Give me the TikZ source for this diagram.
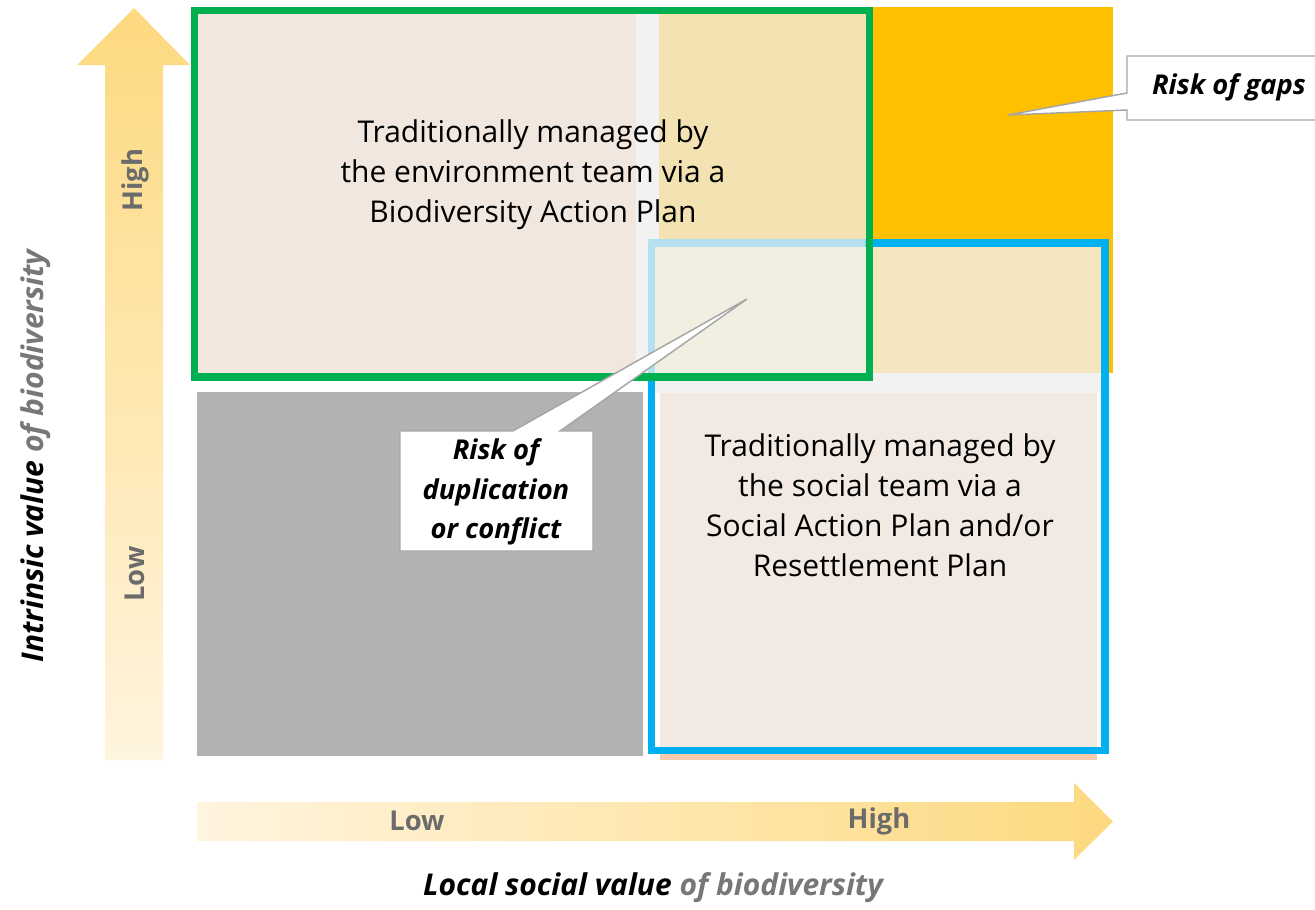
\documentclass[tikz,border=0pt]{standalone}
\usepackage{fontspec}
\setmainfont{Open Sans}
\definecolor{tlbeige}{HTML}{F1E7DF}
\definecolor{gstrip}{HTML}{F2F2F2}
\definecolor{orng}{HTML}{FFC000}
\definecolor{gtint}{HTML}{F3E3B3}
\definecolor{btint}{HTML}{F5E6BF}
\definecolor{ovl}{HTML}{F1EEE2}
\definecolor{lblue}{HTML}{B4E0F0}
\definecolor{blgrey}{HTML}{B2B2B2}
\definecolor{brbeige}{HTML}{F2E9E2}
\definecolor{peach}{HTML}{F8CBAD}
\definecolor{grn}{HTML}{00B050}
\definecolor{blu}{HTML}{00B0F0}
\definecolor{arrdark}{HTML}{FDD97F}
\definecolor{arrlight}{HTML}{FFF4DE}
\definecolor{lvlgrey}{HTML}{6B6B6B}
\definecolor{axgrey}{HTML}{777777}
\definecolor{callline}{HTML}{A6A6A6}
\begin{document}
\begin{tikzpicture}[x=0.75pt,y=-0.75pt,
  frame/.style={line width=5.6pt},
  callout/.style={fill=white,draw=callline,line width=1.1pt,line join=miter},
  bodytext/.style={align=center,font=\fontsize{22.5pt}{30pt}\selectfont,text=black,inner sep=0pt},
  calltext/.style={align=center,font=\fontsize{20.5pt}{29.5pt}\selectfont\bfseries\itshape,text=black,inner sep=0pt},
  lvl/.style={font=\fontsize{20.5pt}{24pt}\selectfont\bfseries,text=lvlgrey,inner sep=0pt},
  axis/.style={font=\fontsize{22.5pt}{26pt}\selectfont\bfseries\itshape,text=black,inner sep=0pt}]
\useasboundingbox (0,0) rectangle (1315,910);
% arrows
\shade[top color=arrdark,bottom color=arrlight] (105,760) -- (105,65) -- (77,65) -- (134,8) -- (190,65) -- (163,65) -- (163,760) -- cycle;
\shade[left color=arrlight,right color=arrdark] (197,802) -- (1074,802) -- (1074,783) -- (1113,821.5) -- (1074,860) -- (1074,841) -- (197,841) -- cycle;
% quadrants
\fill[gstrip] (636,12) rectangle (660,377);
\fill[tlbeige] (197,14) rectangle (636,377);
\fill[orng] (659,7) rectangle (1113,373);
\fill[gstrip] (650,373) rectangle (1100,393);
\fill[blgrey] (197,392) rectangle (643,756);
\fill[peach] (660,750) rectangle (1097,760);
\fill[brbeige] (660,393) rectangle (1097,752);
% tints
\fill[btint] (655,247) rectangle (1101,373);
\fill[gtint] (659,14) rectangle (866,373);
\fill[ovl] (655,247) rectangle (866,373);
% blue frame
\draw[frame,blu] (651.7,243) rectangle (1105,750.3);
\begin{scope}
\clip (198.3,14.3) rectangle (865.7,373.3);
\draw[frame,lblue] (651.7,380) -- (651.7,243) -- (880,243);
\end{scope}
% green frame
\draw[frame,grn] (194.5,10.5) rectangle (869.5,377);
% body texts
\node[bodytext] (env) at (533,175) {Traditionally managed by\\the environment team via a\\Biodiversity Action Plan};
\node[bodytext] (soc) at (880,505) {Traditionally managed by\\the social team via a\\Social Action Plan and/or\\Resettlement Plan};
% callouts
\coordinate (gapstip) at (1008,115);
\coordinate (duptip) at (747,299);
\draw[callout] (1127,56) -- (1320,56) -- (1320,120) -- (1127,120) -- (1127,110) -- (gapstip) -- (1127,93) -- cycle;
\node[calltext] (gaps) at (1229,87) {Risk of gaps};
\draw[callout] (400,431) -- (513,431) -- (duptip) -- (560,431) -- (593,431) -- (593,551) -- (400,551) -- cycle;
\node[calltext] (dup) at (496,492) {Risk of\\duplication\\or conflict};
% level labels
\node[lvl,rotate=90] (vhigh) at (135,180) {High};
\node[lvl,rotate=90] (vlow) at (135,574) {Low};
\node[lvl] (hlow) at (417,821) {Low};
\node[lvl] (hhigh) at (879,821) {High};
% axis titles
\node[axis] (xtitle) at (653,888) {Local social value \textcolor{axgrey}{of biodiversity}};
\node[axis,rotate=90] (ytitle) at (36,456) {Intrinsic value \textcolor{axgrey}{of biodiversity}};
\end{tikzpicture}
\end{document}
